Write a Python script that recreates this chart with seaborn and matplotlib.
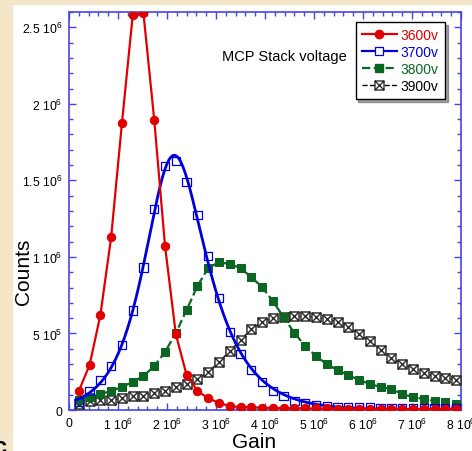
import numpy as np
import pandas as pd
import matplotlib
matplotlib.use("Agg")
import matplotlib.pyplot as plt
from matplotlib.lines import Line2D
from matplotlib.patches import Rectangle
from matplotlib.path import Path
from matplotlib.ticker import FixedLocator, MultipleLocator
import seaborn as sns

# gain values (x 1e6) shared by all series
gain = [0.20, 0.42, 0.64, 0.86, 1.08, 1.30, 1.52, 1.74, 1.96, 2.18, 2.40, 2.62,
        2.84, 3.06, 3.28, 3.50, 3.72, 3.94, 4.16, 4.38, 4.60, 4.82, 5.04, 5.26,
        5.48, 5.70, 5.92, 6.14, 6.36, 6.58, 6.80, 7.02, 7.24, 7.46, 7.68, 7.90]

# counts (x 1e6)
v3600 = [0.124, 0.294, 0.620, 1.129, 1.873, 2.578, 2.591, 1.893, 1.071, 0.496, 0.228, 0.124,
         0.078, 0.046, 0.026, 0.020, 0.017, 0.015, 0.014, 0.013, 0.012, 0.011, 0.010, 0.010,
         0.009, 0.009, 0.008, 0.008, 0.007, 0.007, 0.007, 0.006, 0.006, 0.006, 0.005, 0.005]
v3700 = [0.052, 0.124, 0.196, 0.287, 0.424, 0.650, 0.930, 1.312, 1.593, 1.625, 1.488, 1.273,
         1.005, 0.731, 0.509, 0.366, 0.261, 0.183, 0.124, 0.091, 0.059, 0.046, 0.033, 0.026,
         0.020, 0.018, 0.017, 0.016, 0.015, 0.014, 0.013, 0.013, 0.012, 0.012, 0.011, 0.011]
v3800 = [0.065, 0.085, 0.104, 0.124, 0.150, 0.183, 0.222, 0.287, 0.379, 0.503, 0.653, 0.809,
         0.927, 0.966, 0.953, 0.927, 0.868, 0.803, 0.711, 0.607, 0.503, 0.418, 0.352, 0.300,
         0.261, 0.228, 0.196, 0.170, 0.150, 0.137, 0.104, 0.085, 0.072, 0.059, 0.052, 0.039]
v3900 = [0.039, 0.059, 0.065, 0.065, 0.078, 0.091, 0.091, 0.111, 0.124, 0.150, 0.170, 0.202,
         0.248, 0.313, 0.385, 0.457, 0.529, 0.574, 0.601, 0.607, 0.614, 0.614, 0.607, 0.594,
         0.574, 0.542, 0.496, 0.450, 0.392, 0.339, 0.300, 0.268, 0.242, 0.222, 0.209, 0.196]

series_labels = ["3600v", "3700v", "3800v", "3900v"]
x_ticks = [0, 1, 2, 3, 4, 5, 6, 7, 8]
x_ticklabels = ["0", r"1 $\mathregular{10^6}$", r"2 $\mathregular{10^6}$", r"3 $\mathregular{10^6}$",
                r"4 $\mathregular{10^6}$", r"5 $\mathregular{10^6}$", r"6 $\mathregular{10^6}$",
                r"7 $\mathregular{10^6}$", r"8 $\mathregular{10^6}$"]
y_ticks = [0, 0.5, 1.0, 1.5, 2.0, 2.5]
y_ticklabels = ["0", r"5 $\mathregular{10^5}$", r"1 $\mathregular{10^6}$", r"1.5 $\mathregular{10^6}$",
                r"2 $\mathregular{10^6}$", r"2.5 $\mathregular{10^6}$"]

df = pd.DataFrame({"gain": gain, "3600v": v3600, "3700v": v3700,
                   "3800v": v3800, "3900v": v3900})

plt.rcParams["font.family"] = ["Liberation Sans", "DejaVu Sans"]
plt.rcParams["mathtext.fontset"] = "custom"
plt.rcParams["mathtext.rm"] = "Liberation Sans"

RED, BLUE, GREEN, BLACK = "#e00000", "#0000dd", "#0b6623", "#000000"
AXC = "#4646e0"

# square with a cross inside, for the 3900v points
boxx = Path([(-1, -1), (1, -1), (1, 1), (-1, 1), (-1, -1), (-1, -1), (1, 1), (-1, 1), (1, -1)],
            [Path.MOVETO, Path.LINETO, Path.LINETO, Path.LINETO, Path.CLOSEPOLY,
             Path.MOVETO, Path.LINETO, Path.MOVETO, Path.LINETO])

fig = plt.figure(figsize=(4.72, 4.52), dpi=100, facecolor="#f4e6c8")
fig.patches.append(Rectangle((0.0275, 0), 1, 0.9867, transform=fig.transFigure,
                             facecolor="white", edgecolor="none", zorder=-10))
ax = fig.add_axes([0.1462, 0.0907, 0.8305, 0.8805])
ax.set_facecolor("white")

# 3900v
sns.lineplot(data=df, x="gain", y="3900v", ax=ax, color=BLACK, lw=1.0, linestyle="--",
             marker=boxx, markersize=6.5, markerfacecolor="white",
             markeredgecolor="#333333", markeredgewidth=1.1, zorder=3)
# 3800v
sns.lineplot(data=df, x="gain", y="3800v", ax=ax, color=GREEN, lw=1.6, linestyle="--",
             marker="s", markersize=6, markeredgecolor=GREEN, zorder=4)

# 3700v: open squares + fitted asymmetric peak  A / (exp(-a(x-x0)) + exp(b(x-x0)))
sns.scatterplot(data=df, x="gain", y="3700v", ax=ax, marker="s", s=36,
                facecolor="none", edgecolor=BLUE, linewidth=0.9, zorder=5)
gx = np.array(gain)
by = np.array(v3700)
pa = np.arange(1.0, 3.01, 0.05)[:, None, None, None]
pb = np.arange(0.8, 2.81, 0.05)[None, :, None, None]
px0 = np.arange(1.5, 2.81, 0.02)[None, None, :, None]
f = 1.0 / (np.exp(-pa * (gx - px0)) + np.exp(pb * (gx - px0)))
syf = (f * by).sum(-1)
sff = (f * f).sum(-1)
sse = (by ** 2).sum() - syf ** 2 / sff
i, j, k = np.unravel_index(np.argmin(sse), sse.shape)
a_fit, b_fit, x0_fit = pa.ravel()[i], pb.ravel()[j], px0.ravel()[k]
amp = syf[i, j, k] / sff[i, j, k]
xf = np.linspace(0.14, 8.0, 400)
yf = amp / (np.exp(-a_fit * (xf - x0_fit)) + np.exp(b_fit * (xf - x0_fit)))
sns.lineplot(x=xf, y=yf, ax=ax, color=BLUE, lw=2.0, zorder=6)

# 3600v
sns.lineplot(data=df, x="gain", y="3600v", ax=ax, color=RED, lw=1.6,
             marker="o", markersize=6, markeredgecolor=RED, zorder=7)

ax.set_xlim(0, 8)
ax.set_ylim(0, 2.6)
ax.xaxis.set_major_locator(FixedLocator(x_ticks))
ax.set_xticklabels(x_ticklabels)
ax.yaxis.set_major_locator(FixedLocator(y_ticks))
ax.set_yticklabels(y_ticklabels)
ax.xaxis.set_minor_locator(MultipleLocator(0.2))
ax.yaxis.set_minor_locator(MultipleLocator(0.1))
ax.tick_params(which="both", direction="in", top=True, right=True, color=AXC,
               labelsize=8.8, labelcolor="black", width=1.0)
ax.tick_params(which="major", length=5, pad=5)
ax.tick_params(which="minor", length=3)
for sp in ax.spines.values():
    sp.set_color(AXC)
    sp.set_linewidth(1.2)

ax.set_xlabel("Gain", fontsize=15)
ax.set_ylabel("Counts", fontsize=15)
ax.xaxis.set_label_coords(0.472, -0.055)
ax.yaxis.set_label_coords(-0.093, 0.349)

ax.text(0.39, 0.889, "MCP Stack voltage", transform=ax.transAxes, fontsize=10.5,
        ha="left", va="center")

# clipped letter at the bottom-left edge of the slide
fig.text(0.0, -0.015, "c", fontsize=17, fontweight="bold", ha="center", va="bottom")

handles = [
    Line2D([], [], color=RED, lw=1.6, marker="o", markersize=6),
    Line2D([], [], color=BLUE, lw=1.6, marker="s", markersize=6, markerfacecolor="white",
           markeredgewidth=0.9),
    Line2D([], [], color=GREEN, lw=1.6, linestyle="--", marker="s", markersize=6),
    Line2D([], [], color=BLACK, lw=1.0, linestyle="--", marker=boxx, markersize=6.5,
           markerfacecolor="white", markeredgecolor="#333333"),
]
leg = ax.legend(handles, series_labels, loc="upper right", bbox_to_anchor=(0.959, 0.975),
                fontsize=10, frameon=True, fancybox=False, shadow=True, edgecolor="black",
                handlelength=2.5, handletextpad=0.3, borderpad=0.45, labelspacing=0.2,
                borderaxespad=0)
leg.get_frame().set_linewidth(1.0)
for txt, c in zip(leg.get_texts(), [RED, BLUE, GREEN, BLACK]):
    txt.set_color(c)
leg.set_zorder(10)

fig.savefig("out.png", dpi=100, facecolor=fig.get_facecolor())
